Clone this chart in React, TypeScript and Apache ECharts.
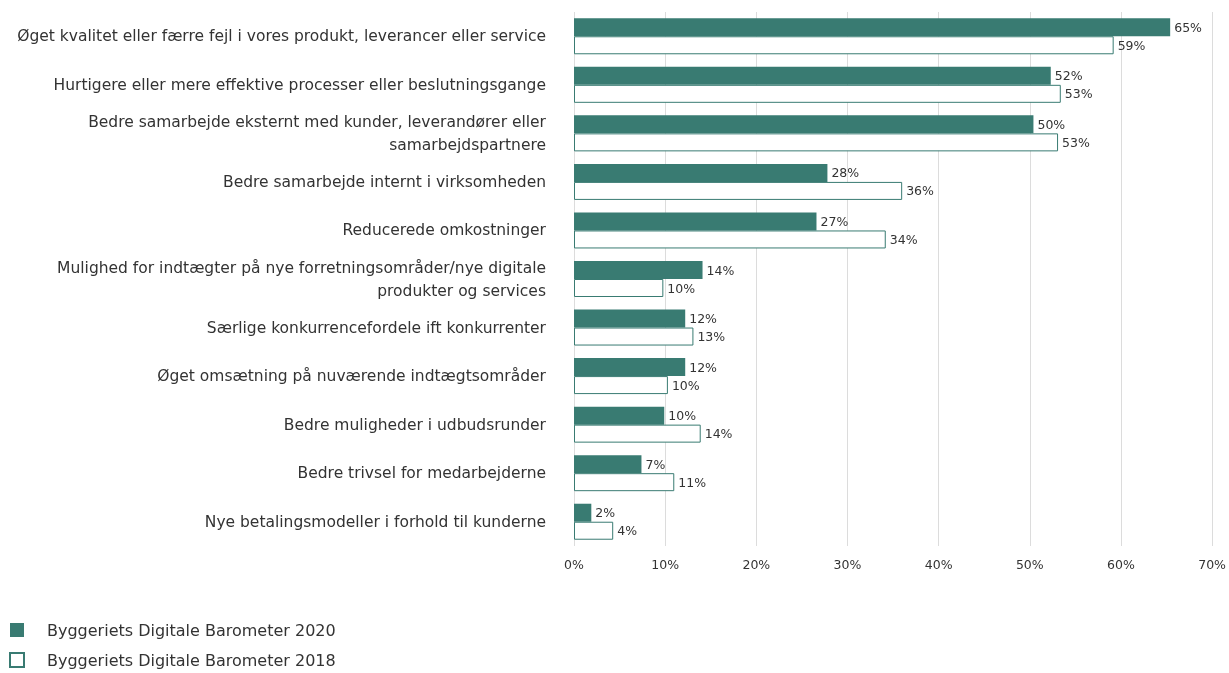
import React, { useEffect, useRef } from "react";
import * as echarts from "echarts";

const categories = [
  "Øget kvalitet eller færre fejl i vores produkt, leverancer eller service",
  "Hurtigere eller mere effektive processer eller beslutningsgange",
  "Bedre samarbejde eksternt med kunder, leverandører eller\nsamarbejdspartnere",
  "Bedre samarbejde internt i virksomheden",
  "Reducerede omkostninger",
  "Mulighed for indtægter på nye forretningsområder/nye digitale\nprodukter og services",
  "Særlige konkurrencefordele ift konkurrenter",
  "Øget omsætning på nuværende indtægtsområder",
  "Bedre muligheder i udbudsrunder",
  "Bedre trivsel for medarbejderne",
  "Nye betalingsmodeller i forhold til kunderne",
];

const values2020 = [65.4, 52.3, 50.4, 27.8, 26.6, 14.1, 12.2, 12.2, 9.9, 7.4, 1.9];
const values2018 = [59.2, 53.4, 53.1, 36.0, 34.2, 9.8, 13.1, 10.3, 13.9, 11.0, 4.3];

const seriesNames = ["Byggeriets Digitale Barometer 2020", "Byggeriets Digitale Barometer 2018"];
const xTicks = [0, 10, 20, 30, 40, 50, 60, 70];

const GREEN = "#397b72";
const FONT = "DejaVu Sans";

export default function App() {
  const ref = useRef<HTMLDivElement>(null);
  useEffect(() => {
    if (!ref.current) return;
    const chart = echarts.init(ref.current, undefined, { renderer: "svg" });
    const labelCfg = {
      show: true,
      position: "right",
      distance: 4,
      color: "#333",
      fontSize: 12.5,
      fontFamily: FONT,
      formatter: (p: any) => Math.round(p.value) + "%",
    };
    chart.setOption({
      animation: false,
      textStyle: { fontFamily: FONT },
      grid: { left: 574, right: 11, top: 12, bottom: 127, containLabel: false },
      xAxis: {
        type: "value",
        min: xTicks[0],
        max: xTicks[xTicks.length - 1],
        interval: 10,
        axisLine: { show: false },
        axisTick: { show: false },
        axisLabel: { color: "#333", fontSize: 12.5, margin: 12, formatter: "{value}%", fontFamily: FONT },
        splitLine: { show: true, lineStyle: { color: "#dcdcdc", width: 1 } },
      },
      yAxis: {
        type: "category",
        data: categories,
        inverse: true,
        axisLine: { show: false },
        axisTick: { show: false },
        axisLabel: { color: "#333", fontSize: 15.5, margin: 28, lineHeight: 23, fontFamily: FONT },
      },
      legend: {
        orient: "vertical",
        left: 4,
        top: 617,
        height: 56,
        itemWidth: 14,
        itemHeight: 14,
        itemGap: 14,
        textStyle: { color: "#333", fontSize: 16, padding: [0, 0, 0, 18], fontFamily: FONT },
        data: [
          { name: seriesNames[0], icon: "rect", itemStyle: { color: GREEN, borderWidth: 0 } },
          { name: seriesNames[1], icon: "rect", itemStyle: { color: "#fff", borderColor: GREEN, borderWidth: 2 } },
        ],
      },
      series: [
        {
          name: seriesNames[0],
          type: "bar",
          data: values2020,
          barWidth: 18,
          barGap: "0%",
          itemStyle: { color: GREEN },
          label: labelCfg,
        },
        {
          name: seriesNames[1],
          type: "bar",
          data: values2018,
          barWidth: 18,
          barGap: "0%",
          itemStyle: { color: "#fff", borderColor: GREEN, borderWidth: 1 },
          label: labelCfg,
        },
      ],
    });
    return () => chart.dispose();
  }, []);
  return <div ref={ref} style={{ position: "fixed", left: 0, top: 0, width: 1229, height: 673 }} />;
}
